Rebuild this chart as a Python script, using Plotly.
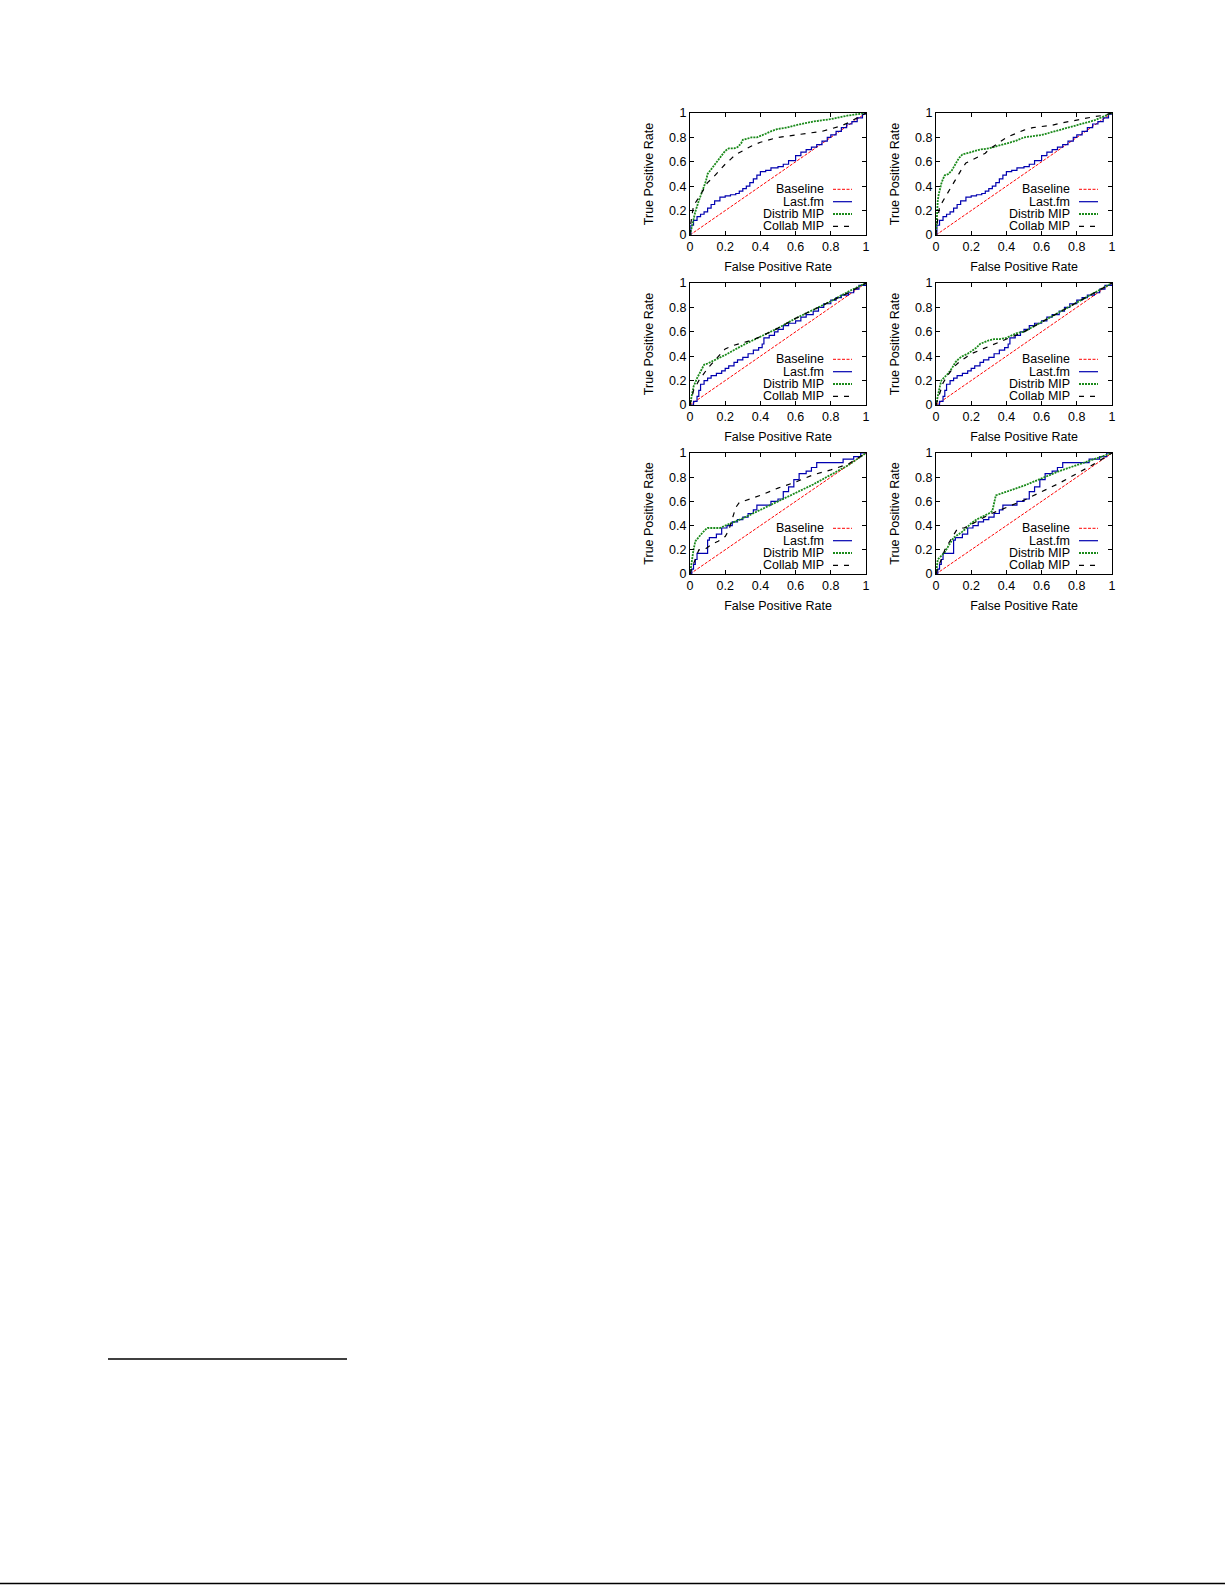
import plotly.graph_objects as go

W, H = 1225, 1585

# ---------------- data ----------------
tick_vals = [0, 0.2, 0.4, 0.6, 0.8, 1]
tick_text = ["0", "0.2", "0.4", "0.6", "0.8", "1"]
series_names = ["Baseline", "Last.fm", "Distrib MIP", "Collab MIP"]

baseline_x = [0, 1]
baseline_y = [0, 1]

# Last.fm (shared by panels 1-2, 3-4, 5-6)
lastfm_a_x = [0, 0.005, 0.02, 0.04, 0.06, 0.08, 0.1, 0.12, 0.14, 0.17, 0.2, 0.23, 0.26, 0.28, 0.3, 0.32, 0.34, 0.36, 0.38, 0.4, 0.43, 0.46, 0.5, 0.53, 0.56, 0.6, 0.63, 0.66, 0.69, 0.72, 0.75, 0.78, 0.8, 0.83, 0.86, 0.89, 0.92, 0.95, 0.98, 1]
lastfm_a_y = [0, 0.08, 0.12, 0.15, 0.17, 0.19, 0.22, 0.25, 0.28, 0.31, 0.32, 0.33, 0.34, 0.36, 0.38, 0.40, 0.43, 0.46, 0.49, 0.52, 0.53, 0.55, 0.56, 0.58, 0.61, 0.65, 0.68, 0.70, 0.72, 0.74, 0.77, 0.80, 0.82, 0.85, 0.88, 0.91, 0.93, 0.96, 0.99, 1]

lastfm_b_x = [0, 0.02, 0.04, 0.05, 0.06, 0.08, 0.1, 0.12, 0.15, 0.18, 0.2, 0.22, 0.25, 0.27, 0.3, 0.33, 0.36, 0.39, 0.41, 0.42, 0.45, 0.48, 0.5, 0.53, 0.56, 0.6, 0.63, 0.66, 0.7, 0.73, 0.76, 0.8, 0.83, 0.86, 0.9, 0.93, 0.96, 1]
lastfm_b_y = [0, 0.03, 0.07, 0.12, 0.17, 0.2, 0.22, 0.24, 0.26, 0.28, 0.3, 0.32, 0.35, 0.37, 0.39, 0.42, 0.45, 0.47, 0.5, 0.55, 0.57, 0.6, 0.62, 0.65, 0.67, 0.69, 0.72, 0.74, 0.77, 0.8, 0.83, 0.86, 0.88, 0.9, 0.92, 0.95, 0.98, 1]

lastfm_c_x = [0, 0.01, 0.02, 0.03, 0.04, 0.1, 0.11, 0.15, 0.18, 0.21, 0.24, 0.27, 0.3, 0.33, 0.36, 0.38, 0.46, 0.5, 0.53, 0.56, 0.59, 0.62, 0.66, 0.69, 0.72, 0.87, 0.93, 0.97, 1]
lastfm_c_y = [0, 0.04, 0.08, 0.12, 0.17, 0.28, 0.3, 0.33, 0.38, 0.4, 0.43, 0.45, 0.47, 0.5, 0.53, 0.57, 0.6, 0.62, 0.68, 0.72, 0.78, 0.83, 0.85, 0.88, 0.92, 0.95, 0.97, 1.0, 1]

# Distrib MIP per panel
distrib1_x = [0, 0.01, 0.02, 0.03, 0.05, 0.07, 0.09, 0.1, 0.12, 0.14, 0.16, 0.18, 0.2, 0.22, 0.25, 0.27, 0.29, 0.3, 0.32, 0.35, 0.38, 0.4, 0.43, 0.46, 0.5, 0.55, 0.6, 0.7, 0.8, 0.9, 1]
distrib1_y = [0, 0.07, 0.13, 0.19, 0.28, 0.36, 0.44, 0.5, 0.54, 0.58, 0.62, 0.66, 0.69, 0.71, 0.71, 0.72, 0.75, 0.78, 0.79, 0.80, 0.80, 0.81, 0.83, 0.85, 0.87, 0.88, 0.9, 0.93, 0.95, 0.98, 1]
distrib2_x = [0, 0.003, 0.006, 0.01, 0.015, 0.02, 0.03, 0.04, 0.05, 0.07, 0.09, 0.11, 0.13, 0.15, 0.18, 0.2, 0.25, 0.3, 0.35, 0.4, 0.45, 0.5, 0.55, 0.6, 0.65, 0.7, 0.75, 0.8, 0.85, 0.9, 0.95, 1]
distrib2_y = [0, 0.12, 0.2, 0.28, 0.33, 0.37, 0.42, 0.46, 0.49, 0.5, 0.53, 0.58, 0.63, 0.66, 0.67, 0.68, 0.7, 0.71, 0.73, 0.75, 0.77, 0.8, 0.81, 0.82, 0.84, 0.86, 0.88, 0.9, 0.92, 0.94, 0.97, 1]
distrib3_x = [0, 0.01, 0.02, 0.04, 0.06, 0.08, 0.1, 0.2, 0.3, 0.4, 0.5, 0.6, 0.7, 0.8, 0.9, 1]
distrib3_y = [0, 0.08, 0.15, 0.22, 0.28, 0.33, 0.34, 0.41, 0.49, 0.56, 0.63, 0.71, 0.78, 0.85, 0.93, 1]
distrib4_x = [0, 0.01, 0.02, 0.03, 0.05, 0.07, 0.09, 0.11, 0.13, 0.15, 0.18, 0.2, 0.23, 0.25, 0.28, 0.3, 0.33, 0.36, 0.4, 0.43, 0.46, 0.5, 0.6, 0.7, 0.8, 0.9, 1]
distrib4_y = [0, 0.08, 0.14, 0.2, 0.23, 0.26, 0.3, 0.35, 0.38, 0.4, 0.42, 0.44, 0.47, 0.5, 0.52, 0.53, 0.54, 0.54, 0.55, 0.57, 0.59, 0.6, 0.68, 0.76, 0.84, 0.92, 1]
distrib5_x = [0, 0.005, 0.01, 0.02, 0.03, 0.05, 0.07, 0.09, 0.1, 0.13, 0.17, 0.2, 0.3, 0.4, 0.5, 0.6, 0.7, 0.8, 0.9, 1]
distrib5_y = [0, 0.05, 0.12, 0.2, 0.27, 0.31, 0.34, 0.37, 0.38, 0.38, 0.38, 0.4, 0.46, 0.53, 0.6, 0.67, 0.74, 0.82, 0.9, 1]
distrib6_x = [0, 0.005, 0.01, 0.03, 0.05, 0.07, 0.09, 0.1, 0.12, 0.15, 0.18, 0.2, 0.23, 0.26, 0.3, 0.32, 0.33, 0.34, 0.4, 0.5, 0.6, 0.7, 0.8, 0.9, 1]
distrib6_y = [0, 0.08, 0.12, 0.15, 0.18, 0.23, 0.27, 0.3, 0.32, 0.35, 0.39, 0.42, 0.45, 0.47, 0.5, 0.52, 0.58, 0.65, 0.68, 0.73, 0.79, 0.85, 0.9, 0.95, 1]

# Collab MIP per panel
collab1_x = [0, 0.005, 0.02, 0.04, 0.06, 0.08, 0.1, 0.13, 0.16, 0.2, 0.23, 0.26, 0.3, 0.35, 0.4, 0.45, 0.5, 0.55, 0.6, 0.65, 0.7, 0.75, 0.8, 0.85, 0.9, 0.95, 1]
collab1_y = [0, 0.1, 0.24, 0.28, 0.33, 0.38, 0.43, 0.47, 0.52, 0.58, 0.62, 0.66, 0.69, 0.73, 0.76, 0.78, 0.8, 0.81, 0.82, 0.83, 0.84, 0.85, 0.87, 0.89, 0.92, 0.96, 1]
collab2_x = [0, 0.005, 0.02, 0.04, 0.06, 0.08, 0.1, 0.12, 0.15, 0.17, 0.2, 0.23, 0.26, 0.28, 0.3, 0.33, 0.36, 0.4, 0.45, 0.5, 0.55, 0.6, 0.66, 0.72, 0.79, 0.85, 0.9, 0.95, 1]
collab2_y = [0, 0.08, 0.23, 0.28, 0.33, 0.38, 0.43, 0.48, 0.55, 0.59, 0.61, 0.63, 0.65, 0.67, 0.7, 0.73, 0.76, 0.8, 0.83, 0.86, 0.88, 0.89, 0.9, 0.92, 0.94, 0.96, 0.97, 0.98, 1]
collab3_x = [0, 0.02, 0.05, 0.08, 0.1, 0.15, 0.2, 0.25, 0.3, 0.35, 0.4, 0.5, 0.6, 0.7, 0.8, 0.9, 1]
collab3_y = [0, 0.12, 0.2, 0.26, 0.3, 0.38, 0.46, 0.49, 0.51, 0.53, 0.56, 0.63, 0.71, 0.78, 0.85, 0.92, 1]
collab4_x = [0, 0.02, 0.04, 0.06, 0.08, 0.1, 0.13, 0.16, 0.2, 0.25, 0.3, 0.35, 0.4, 0.45, 0.5, 0.6, 0.7, 0.8, 0.9, 1]
collab4_y = [0, 0.1, 0.18, 0.23, 0.27, 0.31, 0.35, 0.38, 0.42, 0.45, 0.48, 0.51, 0.54, 0.57, 0.6, 0.68, 0.76, 0.84, 0.92, 1]
collab5_x = [0, 0.01, 0.03, 0.05, 0.08, 0.1, 0.13, 0.16, 0.2, 0.22, 0.24, 0.26, 0.28, 0.3, 0.4, 0.5, 0.6, 0.7, 0.8, 0.9, 1]
collab5_y = [0, 0.05, 0.12, 0.2, 0.2, 0.22, 0.25, 0.27, 0.31, 0.36, 0.45, 0.55, 0.59, 0.6, 0.65, 0.71, 0.76, 0.82, 0.86, 0.91, 1]
collab6_x = [0, 0.01, 0.03, 0.05, 0.07, 0.09, 0.1, 0.12, 0.14, 0.16, 0.2, 0.25, 0.3, 0.35, 0.4, 0.45, 0.5, 0.6, 0.7, 0.8, 0.9, 1]
collab6_y = [0, 0.05, 0.12, 0.2, 0.25, 0.3, 0.33, 0.37, 0.38, 0.38, 0.41, 0.45, 0.49, 0.52, 0.55, 0.58, 0.61, 0.68, 0.75, 0.83, 0.91, 1]

panels = [
    (lastfm_a_x, lastfm_a_y, distrib1_x, distrib1_y, collab1_x, collab1_y),
    (lastfm_a_x, lastfm_a_y, distrib2_x, distrib2_y, collab2_x, collab2_y),
    (lastfm_b_x, lastfm_b_y, distrib3_x, distrib3_y, collab3_x, collab3_y),
    (lastfm_b_x, lastfm_b_y, distrib4_x, distrib4_y, collab4_x, collab4_y),
    (lastfm_c_x, lastfm_c_y, distrib5_x, distrib5_y, collab5_x, collab5_y),
    (lastfm_c_x, lastfm_c_y, distrib6_x, distrib6_y, collab6_x, collab6_y),
]

# ---------------- styles / layout ----------------
FONT = "Liberation Sans, Arial, Helvetica, sans-serif"
FS = 12.5
RED, BLUE, GREEN, BLACK = "#ff0000", "#0000b0", "#1a8a1a", "#000000"
styles = {
    "Baseline": dict(color=RED, width=1, dash="3px,1.5px"),
    "Last.fm": dict(color=BLUE, width=1.2, dash="solid"),
    "Distrib MIP": dict(color=GREEN, width=1.8, dash="2px,1px"),
    "Collab MIP": dict(color=BLACK, width=1.2, dash="5px,6px"),
}

col_px = [(690, 866), (936, 1112)]
row_px = [(113, 235), (283, 405), (453, 574)]


def px_x(px):
    return px / W


def px_y(py):
    return 1 - py / H


fig = go.Figure()
layout_axes = {}
shapes = []
annotations = []

for i, (lx, ly, dx, dy, cx, cy) in enumerate(panels):
    r, c = divmod(i, 2)
    n = i + 1
    xa = "x" if n == 1 else f"x{n}"
    ya = "y" if n == 1 else f"y{n}"
    fig.add_trace(go.Scatter(x=baseline_x, y=baseline_y, mode="lines", name="Baseline",
                             line=styles["Baseline"], xaxis=xa, yaxis=ya, showlegend=False))
    fig.add_trace(go.Scatter(x=lx, y=ly, mode="lines", name="Last.fm", line_shape="hv",
                             line=styles["Last.fm"], xaxis=xa, yaxis=ya, showlegend=False))
    fig.add_trace(go.Scatter(x=dx, y=dy, mode="lines", name="Distrib MIP",
                             line=styles["Distrib MIP"], xaxis=xa, yaxis=ya, showlegend=False))
    fig.add_trace(go.Scatter(x=cx, y=cy, mode="lines", name="Collab MIP",
                             line=styles["Collab MIP"], xaxis=xa, yaxis=ya, showlegend=False))

    x0, x1 = col_px[c]
    y0, y1 = row_px[r]
    common = dict(range=[0, 1], tickvals=tick_vals, ticktext=tick_text, ticks="inside",
                  ticklen=4, tickwidth=1, tickcolor="black", mirror="ticks", showline=True,
                  linecolor="black", linewidth=1, showgrid=False, zeroline=False,
                  automargin=False,
                  tickfont=dict(family=FONT, size=FS, color="black"), fixedrange=True)
    layout_axes["xaxis" if n == 1 else f"xaxis{n}"] = dict(
        common, domain=[px_x(x0), px_x(x1)], anchor=ya,
        title=dict(text="False Positive Rate", font=dict(family=FONT, size=FS, color="black"), standoff=9))
    layout_axes["yaxis" if n == 1 else f"yaxis{n}"] = dict(
        common, domain=[px_y(y1), px_y(y0)], anchor=xa,
        title=dict(text="True Positive Rate", font=dict(family=FONT, size=FS, color="black"), standoff=12))

    # gnuplot-style key: right-aligned text, sample line on the right
    for k, name in enumerate(series_names):
        yy = y1 - [45.7, 33.3, 21.0, 8.7][k]
        annotations.append(dict(x=px_x(x1 - 40), y=px_y(yy), xref="paper", yref="paper",
                                text=name, showarrow=False, xanchor="right", yanchor="middle",
                                font=dict(family=FONT, size=FS, color="black")))
        st = styles[name]
        shapes.append(dict(type="line", xref="paper", yref="paper",
                           x0=px_x(x1 - 33), x1=px_x(x1 - 14), y0=px_y(yy), y1=px_y(yy),
                           line=dict(color=st["color"], width=st["width"], dash=st["dash"])))

# page rules (footnote separator and bottom rule)
shapes.append(dict(type="line", xref="paper", yref="paper", x0=px_x(108), x1=px_x(347),
                   y0=px_y(1359), y1=px_y(1359), line=dict(color="black", width=1.3)))
shapes.append(dict(type="line", xref="paper", yref="paper", x0=0, x1=1,
                   y0=px_y(1583.5), y1=px_y(1583.5), line=dict(color="black", width=1.5)))

fig.update_layout(width=W, height=H, margin=dict(l=0, r=0, t=0, b=0),
                  paper_bgcolor="white", plot_bgcolor="white", showlegend=False,
                  shapes=shapes, annotations=annotations, **layout_axes)

fig.write_html("out.html", config={"displayModeBar": False},
               post_script="document.body.style.margin='0px';")
